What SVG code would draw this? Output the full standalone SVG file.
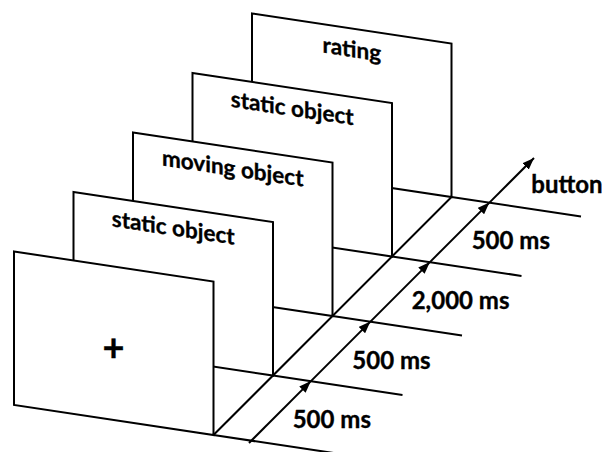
<svg xmlns="http://www.w3.org/2000/svg" width="604" height="452" viewBox="0 0 604 452">
  <style>
    .panel { fill: #ffffff; stroke: #000000; stroke-width: 2; stroke-linejoin: miter; }
    .line { fill: none; stroke: #000000; stroke-width: 2; }
    .arrow { fill: none; stroke: #000000; stroke-width: 2; marker-end: url(#head); }
    .label { font-family: Lato, "Open Sans", "Liberation Sans", sans-serif; font-weight: 700; fill: #000000; stroke: #000000; stroke-width: 0.35; }
    .screen { font-size: 22.5px; text-anchor: middle; }
    .time { font-size: 24px; }
  </style>
  <defs>
    <marker id="head" markerUnits="userSpaceOnUse" markerWidth="12" markerHeight="9" refX="12" refY="4.5" orient="auto">
      <path d="M0,0 L12,4.5 L0,9 z" fill="#000000"/>
    </marker>
  </defs>
  <rect width="604" height="452" fill="#ffffff"/>

  <!-- screens, drawn back to front -->
  <g id="screen-rating">
    <polygon class="panel" points="252,13.5 451.5,43.5 451.5,197 252,167"/>
    <text class="label screen" transform="translate(351.75 57) skewY(8.53)">rating</text>
  </g>
  <g id="screen-static-2">
    <polygon class="panel" points="192.5,73 392,103 392,256.5 192.5,226.5"/>
    <text class="label screen" transform="translate(292.25 116) skewY(8.53)">static object</text>
  </g>
  <g id="screen-moving">
    <polygon class="panel" points="133,132.5 332.5,162.5 332.5,316 133,286"/>
    <text class="label screen" transform="translate(232.75 176) skewY(8.53)">moving object</text>
  </g>
  <g id="screen-static-1">
    <polygon class="panel" points="73.5,192 273,222 273,375.5 73.5,345.5"/>
    <text class="label screen" transform="translate(173.25 235.5) skewY(8.53)">static object</text>
  </g>
  <g id="screen-fixation">
    <polygon class="panel" points="14,251.5 213.5,281.5 213.5,435 14,405"/>
    <text class="label" x="113.5" y="360.5" font-size="38" text-anchor="middle">+</text>
  </g>

  <!-- floor: screen baselines, timeline edge and arrows -->
  <g id="connectors">
    <line class="line" x1="213.5" y1="435" x2="343" y2="454.4"/>
    <line class="line" x1="273" y1="375.5" x2="402.5" y2="394.9"/>
    <line class="line" x1="332.5" y1="316" x2="462" y2="335.4"/>
    <line class="line" x1="392" y1="256.5" x2="521.5" y2="275.9"/>
    <line class="line" x1="451.5" y1="197" x2="581" y2="216.4"/>
    <line class="line" x1="213.5" y1="435" x2="451.5" y2="197"/>
    <line class="arrow" x1="249" y1="443" x2="310.9" y2="381.1"/>
    <line class="arrow" x1="310.9" y1="381.1" x2="370.4" y2="321.6"/>
    <line class="arrow" x1="370.4" y1="321.6" x2="429.9" y2="262.1"/>
    <line class="arrow" x1="429.9" y1="262.1" x2="489.4" y2="202.6"/>
    <line class="arrow" x1="489.4" y1="202.6" x2="534" y2="158"/>
  </g>

  <g id="durations">
    <text class="label time" x="292.7" y="428.3">500 ms</text>
    <text class="label time" x="352.3" y="369">500 ms</text>
    <text class="label time" x="411.7" y="309.3">2,000 ms</text>
    <text class="label time" x="471.7" y="249.3">500 ms</text>
    <text class="label time" x="531.3" y="192.5">button</text>
  </g>
</svg>
